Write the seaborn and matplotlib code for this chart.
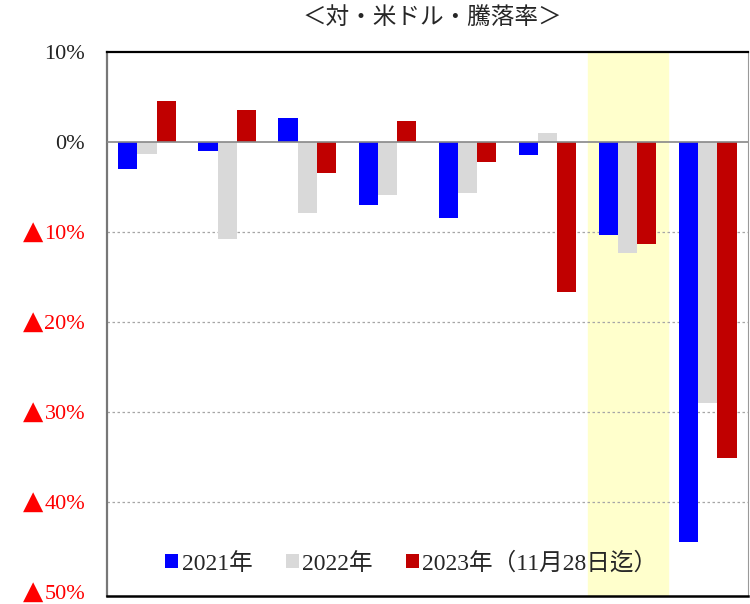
import numpy as np
import pandas as pd
import matplotlib
matplotlib.use('Agg')
import matplotlib.pyplot as plt
import seaborn as sns

groups = ['G1', 'G2', 'G3', 'G4', 'G5', 'G6', 'G7', 'G8']
years = ['2021年', '2022年', '2023年（11月28日迄）']
v2021 = [-3.0, -1.0, 2.7, -7.0, -8.4, -1.4, -10.3, -44.4]
v2022 = [-1.3, -10.8, -7.9, -5.9, -5.7, 1.0, -12.3, -29.0]
v2023 = [4.6, 3.6, -3.4, 2.3, -2.2, -16.6, -11.3, -35.1]
colors = ['#0000FF', '#D9D9D9', '#C00000']
yticks = [10, 0, -10, -20, -30, -40, -50]
highlight = 'G7'

df = pd.DataFrame({
    'group': groups * 3,
    'year': [years[0]] * 8 + [years[1]] * 8 + [years[2]] * 8,
    'value': v2021 + v2022 + v2023
})

sns.set_style('white')
fonts = ['Liberation Serif', 'Noto Sans CJK JP', 'DejaVu Serif']
plt.rcParams['font.family'] = fonts

fig = plt.figure(figsize=(7.5, 6.04), dpi=100)
ax = fig.add_axes([0.1427, 0.0132, 0.8543, 0.9008])

hi = groups.index(highlight)
ax.axvspan(hi - 0.5, hi + 0.5, color='#FFFFCC', zorder=0)

sns.barplot(
    data=df,
    x='group',
    y='value',
    hue='year',
    palette=colors,
    saturation=1,
    width=0.72,
    linewidth=0,
    ax=ax,
    zorder=3
)

ax.set_ylim(-50.4, 10)
ax.set_xlim(-0.5, len(groups) - 0.5)
ax.set_xlabel('')
ax.set_ylabel('')
ax.set_xticks([])

# y labels drawn by hand so the ▲ can be bigger than the digits
ax.set_yticks(yticks)
ax.set_yticklabels([])
ax.tick_params(axis='y', length=0)
for t in yticks:
    col = 'red' if t < 0 else '#222222'
    txt = ax.text(-0.034, t, f'{abs(t)}%', ha='right', va='center_baseline', fontsize=16,
                  color=col, transform=ax.get_yaxis_transform(), clip_on=False)
    if t < 0:
        ax.annotate('▲', xy=(0, 0.65), xycoords=txt, xytext=(-1, 0),
                    textcoords='offset points', ha='right', va='center',
                    fontsize=19, color='red', family='DejaVu Sans')

for t in [-10, -20, -30, -40]:
    ax.axhline(t, color='#A6A6A6', linestyle=(0, (2, 2)), linewidth=0.9, zorder=1)
ax.axhline(0, color='#888888', linewidth=1.2, zorder=4)

ax.spines['top'].set_color('black')
ax.spines['top'].set_linewidth(1.6)
ax.spines['bottom'].set_color('black')
ax.spines['bottom'].set_linewidth(1.8)
ax.spines['left'].set_color('#777777')
ax.spines['left'].set_linewidth(1.6)
ax.spines['right'].set_color('#999999')
ax.spines['right'].set_linewidth(0.8)

handles, _ = ax.get_legend_handles_labels()
ax.legend(
    handles, years,
    loc='center',
    bbox_to_anchor=(0.475, 0.06),
    ncol=3,
    frameon=False,
    fontsize=17,
    handlelength=0.55,
    handleheight=0.55,
    handletextpad=0.15,
    columnspacing=1.4
)

fig.text(0.577, 0.97, '＜対・米ドル・騰落率＞', ha='center', va='center', fontsize=17,
         family=fonts)

fig.savefig('out.png', dpi=100)
